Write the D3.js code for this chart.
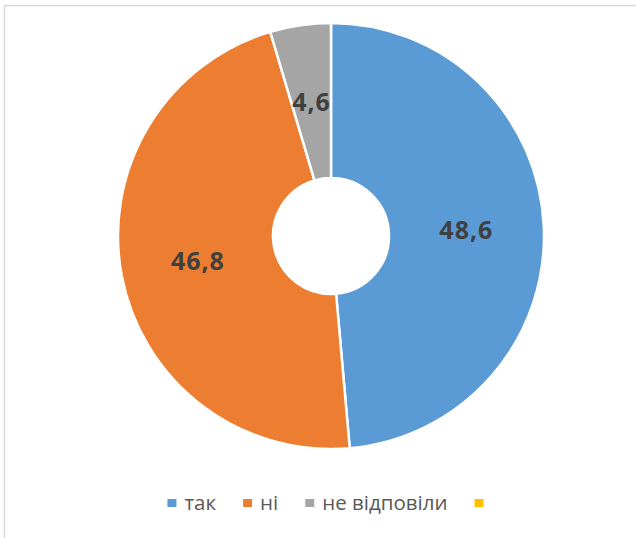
<!DOCTYPE html>
<html>
<head>
<meta charset="utf-8">
<script src="https://cdn.jsdelivr.net/npm/d3@7"></script>
<style>
  body { margin: 0; background: #fff; }
  svg { display: block; }
</style>
</head>
<body>
<div id="chart"></div>
<script>
var categories = ["так", "ні", "не відповіли", ""];
var values = [48.6, 46.8, 4.6, 0];
var labels = ["48,6", "46,8", "4,6", ""];
var colors = ["#5B9BD5", "#ED7D31", "#A5A5A5", "#FFC000"];

var width = 636,
    height = 538;
var cx = 331, cy = 236;
var outerR = 213, innerR = 58;

var svg = d3.select("#chart").append("svg")
    .attr("width", width)
    .attr("height", height);

// chart area border (runs off the right / bottom edge)
svg.append("rect")
    .attr("x", 4.5)
    .attr("y", 5.5)
    .attr("width", 700)
    .attr("height", 700)
    .attr("fill", "none")
    .attr("stroke", "#d9d9d9")
    .attr("stroke-width", 1.5);

var pie = d3.pie().sort(null).value(d => d);
var arc = d3.arc().innerRadius(innerR).outerRadius(outerR);
var labelArc = d3.arc().innerRadius((innerR + outerR) / 2).outerRadius((innerR + outerR) / 2);

var g = svg.append("g").attr("transform", "translate(" + cx + "," + cy + ")");
var arcs = pie(values);

g.selectAll("path.slice")
    .data(arcs.filter(d => d.value > 0))
    .enter().append("path")
    .attr("class", "slice")
    .attr("d", arc)
    .attr("fill", d => colors[d.index])
    .attr("stroke", "#fff")
    .attr("stroke-width", 2.5);

g.selectAll("text.lbl")
    .data(arcs.filter(d => d.value > 0))
    .enter().append("text")
    .attr("class", "lbl")
    .attr("transform", d => "translate(" + labelArc.centroid(d) + ")")
    .attr("text-anchor", "middle")
    .attr("dy", "0.36em")
    .style("font-family", "'Open Sans', sans-serif")
    .style("font-weight", "bold")
    .style("font-size", "25px")
    .style("letter-spacing", "1px")
    .attr("fill", "#404040")
    .text(d => labels[d.index]);

// legend
var legend = svg.append("g").attr("class", "legend");
var items = legend.selectAll("g.item")
    .data(categories)
    .enter().append("g")
    .attr("class", "item");
items.append("rect")
    .attr("width", 9)
    .attr("height", 8)
    .attr("y", -4)
    .attr("fill", (d, i) => colors[i]);
items.append("text")
    .attr("x", 17)
    .attr("dy", "0.36em")
    .style("font-family", "'Open Sans', sans-serif")
    .style("font-size", "20.5px")
    .attr("fill", "#595959")
    .text(d => d);

var xPos = 0, offsets = [];
items.each(function(d, i) {
    var tw = d ? this.querySelector("text").getComputedTextLength() : 0;
    offsets.push(xPos);
    xPos += (d ? 17 + tw : 9) + 27;
});
var total = xPos - 27;
var startX = 325.5 - total / 2;
items.attr("transform", (d, i) => "translate(" + (startX + offsets[i]) + ",503)");
</script>
</body>
</html>
